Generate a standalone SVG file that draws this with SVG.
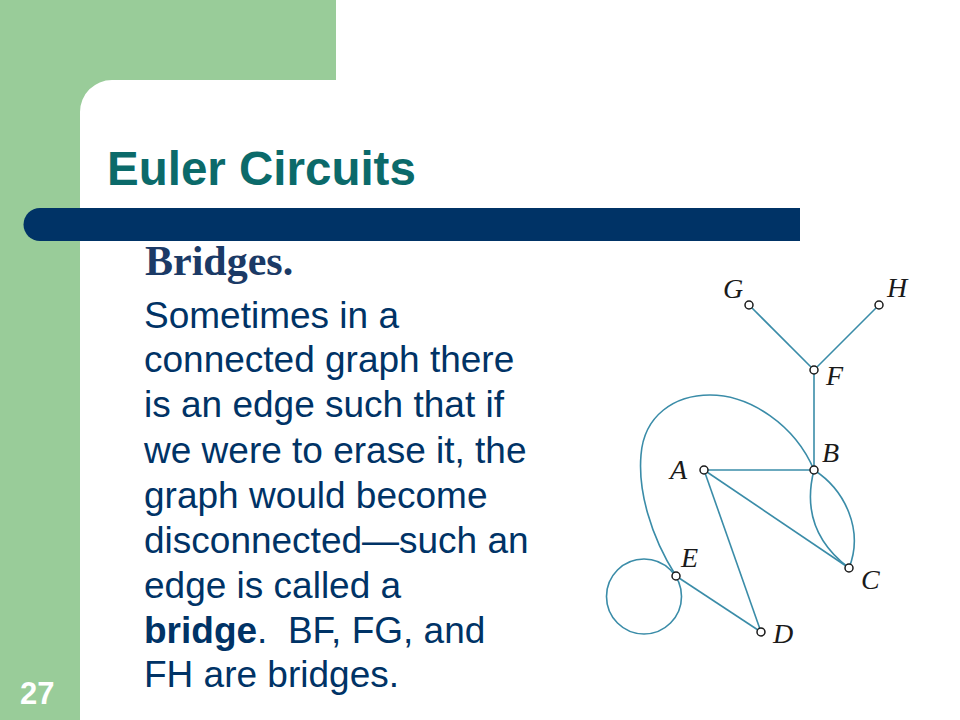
<svg xmlns="http://www.w3.org/2000/svg" width="960" height="720" viewBox="0 0 960 720">
<style>
.edge{fill:none;stroke:#3a8ca8;stroke-width:1.6}
.node{fill:#fff;stroke:#1a1a1a;stroke-width:1.5}
.lbl{font-family:"Liberation Serif","Times New Roman",serif;font-style:italic;font-size:28px;fill:#1a1a1a}
.body{font-family:"Liberation Sans",Arial,sans-serif;font-size:37px;fill:#003366}
</style>
<rect width="960" height="720" fill="#ffffff"/>
<path d="M0,0 H336 V80 H112 A32,32 0 0 0 80,112 V720 H0 Z" fill="#99cc99"/>
<path d="M40,208 H800 V241 H40 A16.5,16.5 0 0 1 40,208 Z" fill="#003366"/>
<text x="107" y="185" font-family="'Liberation Sans',Arial,sans-serif" font-weight="bold" font-size="47.5" fill="#0b6a6a">Euler Circuits</text>
<text x="145" y="275" font-family="'Liberation Serif','Times New Roman',serif" font-weight="bold" font-size="42" fill="#1b3a66">Bridges.</text>
<g class="body">
<text x="144" y="328">Sometimes in a</text>
<text x="144" y="372">connected graph there</text>
<text x="144" y="417">is an edge such that if</text>
<text x="144" y="463">we were to erase it, the</text>
<text x="144" y="508">graph would become</text>
<text x="144" y="553">disconnected—such an</text>
<text x="144" y="598">edge is called a</text>
<text x="144" y="643" xml:space="preserve"><tspan font-weight="bold">bridge</tspan>.  BF, FG, and</text>
<text x="144" y="687">FH are bridges.</text>
</g>
<text x="20" y="704" font-family="'Liberation Sans',Arial,sans-serif" font-weight="bold" font-size="31" fill="#ffffff">27</text>
<g id="connectors">
<line class="edge" x1="749" y1="305" x2="814" y2="370"/>
<line class="edge" x1="879" y1="305" x2="814" y2="370"/>
<line class="edge" x1="814" y1="370" x2="814" y2="470"/>
<line class="edge" x1="704" y1="470" x2="814" y2="470"/>
<line class="edge" x1="704" y1="470" x2="849" y2="568"/>
<line class="edge" x1="704" y1="470" x2="761" y2="632"/>
<line class="edge" x1="676" y1="576" x2="761" y2="632"/>
<path class="edge" d="M814,470 C805,505 812,540 849,568"/>
<path class="edge" d="M814,470 C845,490 864,530 849,568"/>
<path class="edge" d="M676,576 C650,535 638,490 641,455 C644,415 675,395 710,395 C750,395 795,425 814,470"/>
<circle class="edge" cx="644" cy="596.5" r="37.5"/>
</g>
<g id="node-G"><circle class="node" cx="749" cy="305" r="4"/><text class="lbl" x="723" y="298">G</text></g>
<g id="node-H"><circle class="node" cx="879" cy="305" r="4"/><text class="lbl" x="887" y="297">H</text></g>
<g id="node-F"><circle class="node" cx="814" cy="370" r="4"/><text class="lbl" x="826" y="385">F</text></g>
<g id="node-B"><circle class="node" cx="814" cy="470" r="4"/><text class="lbl" x="822" y="462">B</text></g>
<g id="node-A"><circle class="node" cx="704" cy="470" r="4"/><text class="lbl" x="670" y="479">A</text></g>
<g id="node-C"><circle class="node" cx="849" cy="568" r="4"/><text class="lbl" x="861" y="589">C</text></g>
<g id="node-D"><circle class="node" cx="761" cy="632" r="4"/><text class="lbl" x="773" y="643">D</text></g>
<g id="node-E"><circle class="node" cx="676" cy="576" r="4"/><text class="lbl" x="681" y="567">E</text></g>
</svg>
